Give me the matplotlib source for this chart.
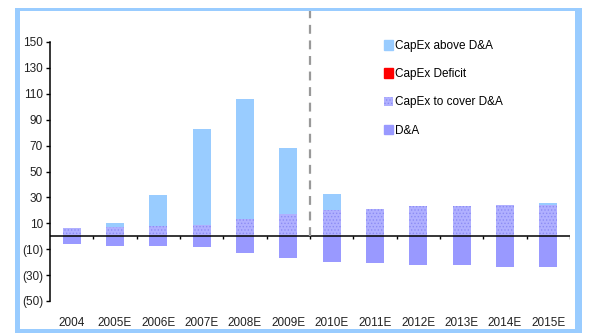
import numpy as np
import matplotlib
matplotlib.use('Agg')
import matplotlib.pyplot as plt
import matplotlib.patches as mpatches

plt.rcParams['font.family'] = ['Liberation Sans', 'DejaVu Sans']

years = ['2004', '2005E', '2006E', '2007E', '2008E', '2009E',
         '2010E', '2011E', '2012E', '2013E', '2014E', '2015E']
capex_cover = [6.6, 7.3, 7.6, 8.6, 13.0, 17.0, 20.6, 21.4, 23.0, 23.0, 24.5, 24.0]
capex_above = [0.0, 3.3, 23.9, 74.6, 92.6, 50.8, 12.4, 0.0, 0.0, 0.0, 0.0, 1.3]
capex_deficit = [0.0] * 12
dep_amort = [6.0, 7.6, 7.6, 8.4, 13.0, 17.0, 20.0, 21.0, 22.5, 22.5, 24.0, 24.0]
y_ticks = [150, 130, 110, 90, 70, 50, 30, 10, -10, -30, -50]

c_above = '#99CCFF'
c_deficit = '#FF0000'
c_cover = '#B0B0FF'
c_da = '#9999FF'

fig = plt.figure(figsize=(5.93, 3.36), dpi=100)
ax = fig.add_axes([50 / 593, 1 - 301 / 336, 520 / 593, 259 / 336])

x = np.arange(len(years))
w = 0.42
plt.rcParams['hatch.linewidth'] = 0.6
ax.bar(x, capex_cover, w, color=c_cover, edgecolor='#8C8CF5', hatch='.....', linewidth=0)
ax.bar(x, capex_above, w, bottom=capex_cover, color=c_above, linewidth=0)
ax.bar(x, capex_deficit, w, bottom=capex_cover, color=c_deficit, linewidth=0)
ax.bar(x, [-v for v in dep_amort], w, color=c_da, linewidth=0)

# zero line with category separator ticks
ax.axhline(0, color='black', lw=1.1, zorder=3)
ax.vlines(np.arange(0.5, len(years), 1), -2.4, 0, color='black', lw=1, zorder=3)

# actual / forecast divider
ax.vlines(5.5, 0, 174, colors='#999999', linestyles=(0, (4, 3)), lw=1.6, clip_on=False, zorder=4)

ax.set_xlim(-0.5, 11.5)
ax.set_ylim(-50, 150)
ax.set_yticks(y_ticks)
ax.set_yticklabels([str(v) if v >= 0 else '(%d)' % -v for v in y_ticks])
ax.set_xticks(x)
ax.set_xticklabels(years)
ax.tick_params(axis='x', length=0, pad=11.5, labelsize=8.5, colors='#222222')
ax.tick_params(axis='y', length=3, width=1, direction='out', pad=2, labelsize=8.5,
               colors='black', labelcolor='#222222')
for s in ['top', 'right', 'bottom']:
    ax.spines[s].set_visible(False)
ax.spines['left'].set_linewidth(1.1)

handles = [mpatches.Patch(color=c_above, label='CapEx above D&A'),
           mpatches.Patch(color=c_deficit, label='CapEx Deficit'),
           mpatches.Patch(facecolor=c_cover, edgecolor='#8C8CF5', hatch='.....', lw=0,
                          label='CapEx to cover D&A'),
           mpatches.Patch(color=c_da, label='D&A')]
fig.legend(handles=handles, loc='upper left', bbox_to_anchor=(384 / 593, 1 - 40 / 336),
           frameon=False, fontsize=8.5, handlelength=0.75, handleheight=0.85,
           handletextpad=0.2, labelspacing=1.37, borderpad=0, borderaxespad=0)

# light blue frame
frame = '#99CCFF'
for (x0, y0, ww, hh) in [(15, 8, 567, 3), (15, 8, 5, 325), (575, 8, 7, 325), (15, 329, 567, 4)]:
    fig.add_artist(mpatches.Rectangle((x0 / 593, 1 - (y0 + hh) / 336), ww / 593, hh / 336,
                                      transform=fig.transFigure, color=frame, lw=0))

fig.savefig('out.png', dpi=100)
